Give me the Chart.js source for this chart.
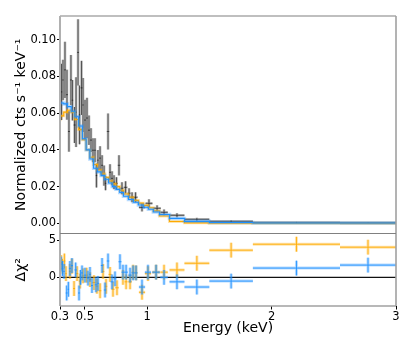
<!DOCTYPE html>
<html>
<head>
<meta charset="utf-8">
<script src="https://cdn.jsdelivr.net/npm/chart.js@4.4.1/dist/chart.umd.min.js"></script>
<style>
  html, body { margin: 0; padding: 0; background: #fff; }
</style>
</head>
<body>
<canvas id="spec" width="415" height="351"></canvas>
<script>
// spectrum data (black points)
const dataE = [0.312,0.324,0.340,0.356,0.372,0.388,0.400,0.417,0.429,0.445,0.457,0.473,0.485,0.501,0.517,0.533,0.549,0.565,0.581,0.593,0.605,0.622,0.638,0.654,0.666,0.686,0.702,0.718,0.734,0.754,0.774,0.798,0.827,0.855,0.879,0.907,0.959,1.015,1.080,1.136,1.240,1.400,1.675,2.200,2.775];
const dataEerr = [0.006,0.006,0.008,0.008,0.008,0.008,0.006,0.008,0.006,0.008,0.006,0.008,0.006,0.008,0.008,0.008,0.008,0.008,0.008,0.006,0.006,0.008,0.008,0.008,0.006,0.010,0.008,0.008,0.008,0.010,0.010,0.012,0.014,0.012,0.012,0.016,0.025,0.028,0.030,0.030,0.060,0.100,0.175,0.350,0.225];
const dataF = [0.0715,0.078,0.0835,0.070,0.050,0.078,0.067,0.0535,0.0605,0.093,0.059,0.0737,0.0644,0.0562,0.0573,0.0507,0.0453,0.0398,0.0398,0.026,0.0344,0.0355,0.0316,0.026,0.0218,0.050,0.0278,0.0245,0.0224,0.0218,0.0316,0.0191,0.0196,0.0164,0.0142,0.0142,0.0087,0.0109,0.0082,0.006,0.0044,0.0022,0.0011,0.0005,0.0003];
const dataFerr = [0.0153,0.011,0.0153,0.0136,0.011,0.0136,0.011,0.0098,0.019,0.018,0.016,0.0147,0.0147,0.011,0.011,0.008,0.0065,0.0065,0.0065,0.0065,0.0055,0.0065,0.0055,0.0055,0.0038,0.0098,0.0044,0.0038,0.0038,0.0033,0.0055,0.0033,0.0033,0.0027,0.0027,0.0027,0.0022,0.0022,0.0016,0.0016,0.0011,0.0008,0.0005,0.0003,0.0002];

// folded models (step per bin)
const modelEdges = [0.30,0.33,0.36,0.39,0.42,0.45,0.48,0.51,0.54,0.57,0.60,0.63,0.66,0.69,0.72,0.75,0.78,0.81,0.85,0.89,0.93,0.97,1.01,1.05,1.10,1.18,1.30,1.50,1.85,2.55,3.00];
const blueModel = [0.066,0.0655,0.065,0.0635,0.061,0.058,0.053,0.046,0.040,0.035,0.030,0.028,0.026,0.024,0.022,0.020,0.0185,0.0168,0.0148,0.0130,0.0115,0.0100,0.0088,0.0077,0.0062,0.0048,0.0027,0.0011,0.0005,0.0002];
const orangeModel = [0.0555,0.0585,0.0605,0.0615,0.0605,0.0565,0.051,0.0455,0.040,0.036,0.032,0.029,0.027,0.025,0.023,0.0215,0.020,0.018,0.016,0.0142,0.0125,0.011,0.0098,0.0085,0.0068,0.0040,0.0010,0.0003,0.0001,0.0001];

// residuals (delta chi^2)
const blueResE = [0.308,0.320,0.332,0.354,0.367,0.380,0.396,0.426,0.453,0.465,0.477,0.501,0.525,0.541,0.557,0.589,0.605,0.638,0.662,0.686,0.718,0.742,0.782,0.806,0.831,0.863,0.887,0.911,0.959,1.007,1.072,1.136,1.240,1.400,1.675,2.200,2.775];
const blueResEerr = [0.006,0.006,0.006,0.008,0.006,0.008,0.008,0.010,0.008,0.006,0.008,0.010,0.008,0.008,0.008,0.010,0.008,0.010,0.010,0.010,0.012,0.012,0.012,0.012,0.014,0.014,0.012,0.012,0.025,0.025,0.030,0.030,0.060,0.100,0.175,0.350,0.225];
const blueRes = [1.8,1.2,0.8,-2.1,-1.6,1.2,1.6,1.0,-2.1,0.0,0.6,0.3,-0.1,0.4,-1.1,-1.0,-0.8,1.6,-1.7,2.2,-0.6,-0.2,2.1,0.7,0.7,0.3,0.6,0.6,-1.3,0.7,0.7,0.0,-0.6,-1.3,-0.5,1.25,1.65];
const orangeResE = [0.308,0.320,0.335,0.348,0.380,0.396,0.413,0.437,0.461,0.485,0.515,0.541,0.573,0.597,0.622,0.646,0.670,0.702,0.726,0.758,0.806,0.831,0.863,0.887,0.911,0.959,1.007,1.072,1.136,1.240,1.400,1.675,2.200,2.775];
const orangeResEerr = [0.006,0.006,0.008,0.006,0.008,0.008,0.008,0.010,0.010,0.010,0.010,0.010,0.012,0.010,0.010,0.010,0.010,0.012,0.012,0.014,0.012,0.012,0.014,0.012,0.012,0.025,0.025,0.030,0.030,0.060,0.100,0.175,0.350,0.225];
const orangeRes = [2.0,1.5,2.2,0.5,0.8,1.5,-1.5,0.5,-0.5,0.2,0.3,-0.3,-0.7,-1.2,-1.8,0.8,-1.2,0.4,-1.6,-1.4,0.0,-0.6,-0.6,0.7,0.6,-2.0,0.5,0.7,0.7,1.0,1.9,3.66,4.46,4.06];
const DELCHI_ERR = 1;

const xTicks = [0.3, 0.5, 1, 2, 3];
const xTickLabels = ['0.3', '0.5', '1', '2', '3'];
const fluxTicks = [0, 0.02, 0.04, 0.06, 0.08, 0.10];
const resTicks = [0, 5];

const BLUE = 'rgb(30,144,255)', BLUE_L = 'rgba(30,144,255,0.32)';
const ORANGE = 'rgb(255,170,0)', ORANGE_L = 'rgba(255,170,0,0.32)';

// crosses: vertical + horizontal segment per point, broken by null
function crossPoints(xs, dxs, ys, dys) {
    const pts = [];
    xs.forEach((x, i) => {
        const dy = Array.isArray(dys) ? dys[i] : dys;
        pts.push({x: x, y: ys[i] - dy}, {x: x, y: ys[i] + dy}, {x: x, y: null});
        pts.push({x: x - dxs[i], y: ys[i]}, {x: x + dxs[i], y: ys[i]}, {x: x, y: null});
    });
    return pts;
}

function stepPoints(edges, vals) {
    const pts = vals.map((v, i) => ({x: edges[i], y: v}));
    pts.push({x: edges[edges.length - 1], y: vals[vals.length - 1]});
    return pts;
}

function ds(data, color, width, yAxisID, order, extra) {
    return Object.assign({
        data: data, borderColor: color, borderWidth: width, yAxisID: yAxisID,
        pointRadius: 0, fill: false, tension: 0, order: order, spanGaps: false
    }, extra || {});
}

const blackPts = crossPoints(dataE, dataEerr, dataF, dataFerr);
const bluePts = crossPoints(blueResE, blueResEerr, blueRes, DELCHI_ERR);
const orangePts = crossPoints(orangeResE, orangeResEerr, orangeRes, DELCHI_ERR);

// spines
const frame = {
    id: 'frame',
    afterDraw(chart) {
        const {ctx, chartArea: a, scales} = chart;
        const seg = (x1, y1, x2, y2, c, w) => {
            ctx.beginPath();
            ctx.strokeStyle = c;
            ctx.lineWidth = w;
            ctx.moveTo(x1, y1);
            ctx.lineTo(x2, y2);
            ctx.stroke();
        };
        ctx.save();
        seg(a.left, a.top, a.right, a.top, '#808080', 1.2);
        seg(a.right, a.top, a.right, a.bottom, '#a0a0a0', 1.6);
        seg(a.left, a.top, a.left, a.bottom, '#b0b0b0', 2);
        seg(a.left, scales.y.bottom, a.right, scales.y.bottom, '#808080', 1.2);
        seg(a.left, a.bottom, a.right, a.bottom, '#a0a0a0', 1.4);
        ctx.restore();
    }
};

Chart.defaults.font.family = 'DejaVu Sans';
Chart.defaults.color = '#000';

const tickFont = {size: 11.5};

new Chart(document.getElementById('spec'), {
    type: 'line',
    data: {
        datasets: [
            ds([{x: 0.3, y: 0}, {x: 3, y: 0}], '#111', 1.2, 'yr', 10),
            ds(orangePts, ORANGE_L, 3, 'yr', 9),
            ds(orangePts, ORANGE, 0.9, 'yr', 8),
            ds(bluePts, BLUE_L, 3, 'yr', 7),
            ds(bluePts, BLUE, 0.9, 'yr', 6),
            ds(blackPts, 'rgba(70,70,70,0.38)', 2.6, 'y', 5),
            ds(blackPts, 'rgba(0,0,0,0.7)', 0.8, 'y', 4),
            ds(stepPoints(modelEdges, orangeModel), ORANGE_L, 3, 'y', 3, {stepped: 'after'}),
            ds(stepPoints(modelEdges, orangeModel), ORANGE, 1.1, 'y', 2, {stepped: 'after'}),
            ds(stepPoints(modelEdges, blueModel), BLUE_L, 3.5, 'y', 1, {stepped: 'after'}),
            ds(stepPoints(modelEdges, blueModel), BLUE, 1.1, 'y', 0, {stepped: 'after'})
        ]
    },
    options: {
        responsive: false,
        animation: false,
        devicePixelRatio: 1,
        layout: {padding: {top: 16, right: 19, left: 0, bottom: 0}},
        plugins: {legend: {display: false}, tooltip: {enabled: false}},
        scales: {
            x: {
                type: 'linear', min: 0.3, max: 3,
                afterBuildTicks: s => { s.ticks = xTicks.map(v => ({value: v})); },
                afterFit: s => { s.height = 45; },
                ticks: {font: tickFont, padding: 1, maxRotation: 0, autoSkip: false,
                        callback: (v, i) => xTickLabels[i]},
                grid: {display: true, drawOnChartArea: false, drawTicks: true, tickLength: 3.5, color: '#000'},
                border: {display: false},
                title: {display: true, text: 'Energy (keV)', font: {size: 14}, padding: {top: 0, bottom: 14.6}}
            },
            y: {
                type: 'linear', position: 'left', stack: 'panels', stackWeight: 3, weight: 2,
                min: -0.0055, max: 0.1128,
                afterBuildTicks: s => { s.ticks = fluxTicks.map(v => ({value: v})); },
                afterFit: s => { s.width = 60; },
                ticks: {font: tickFont, padding: 1, callback: v => v.toFixed(2)},
                grid: {display: true, drawOnChartArea: false, drawTicks: true, tickLength: 3, color: '#000'},
                border: {display: false},
                title: {display: true, text: 'Normalized cts s\u207B\u00B9 keV\u207B\u00B9', font: {size: 14}, padding: {top: 12.6, bottom: 0}}
            },
            yr: {
                type: 'linear', position: 'left', stack: 'panels', stackWeight: 1, weight: 1,
                min: -3.85, max: 5.9,
                afterBuildTicks: s => { s.ticks = resTicks.map(v => ({value: v})); },
                afterFit: s => { s.width = 60; },
                ticks: {font: tickFont, padding: 1, callback: v => String(v)},
                grid: {display: true, drawOnChartArea: false, drawTicks: true, tickLength: 3, color: '#000'},
                border: {display: false},
                title: {display: true, text: '\u0394\u03C7\u00B2', font: {size: 14}, padding: {top: 12.6, bottom: 0}}
            }
        }
    },
    plugins: [frame]
});
</script>
</body>
</html>
